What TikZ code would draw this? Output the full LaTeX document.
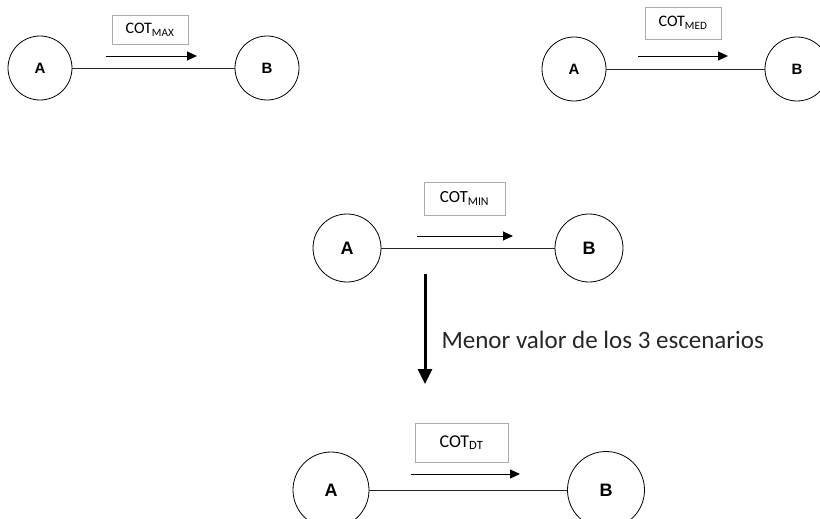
\documentclass[tikz,border=0pt]{standalone}
\usepackage{fontspec}
\setmainfont{Carlito}
\newfontfamily\letrafont{Liberation Sans}
\usetikzlibrary{positioning, arrows.meta}
\tikzset{nodo/.style={circle, draw=black, line width=0.8pt, minimum size=64pt, inner sep=0pt, font=\letrafont\bfseries\fontsize{15}{15}\selectfont},
  nodogrande/.style={nodo, minimum size=70pt, font=\letrafont\bfseries\fontsize{18}{18}\selectfont},
  etiqueta/.style={draw=gray!65, line width=0.8pt, minimum width=76pt, minimum height=29pt, inner sep=0pt, font=\fontsize{16}{16}\selectfont},
  flecha/.style={-{Triangle[length=10pt,width=9pt]}, line width=0.9pt},
  ruta/.style={line width=0.8pt, draw=black!85},
  bajada/.style={-{Triangle[length=15pt,width=14pt]}, line width=3pt}}

\begin{document}
\begin{tikzpicture}[x=1pt, y=-1pt]
                 \useasboundingbox (0,0) rectangle (820,519);
                 % COT max
                 \node[nodo] (A1) at (40,68) {A};
                 \node[nodo] (B1) at (267,68) {B};
                 \node[etiqueta] (cot1) at (150,30) {COT\textsubscript{MAX}};
                 \coordinate (f1i) at (106,56);
                 \coordinate (f1f) at (197,56);
                 \draw[ruta] (A1) -- (B1);
                 \draw[flecha] (f1i) -- (f1f);

                 % COT med
                 \node[nodo] (A2) at (574,69) {A};
                 \node[nodo] (B2) at (797,69) {B};
                 \node[etiqueta, minimum height=32pt] (cot2) at (683,23) {COT\textsubscript{MED}};
                 \coordinate (f2i) at (638,56);
                 \coordinate (f2f) at (728,56);
                 \draw[ruta] (A2) -- (B2);
                 \draw[flecha] (f2i) -- (f2f);

                 % COT min
                 \node[nodogrande, minimum size=68pt] (A3) at (347,248) {A};
                 \node[nodogrande, minimum size=68pt] (B3) at (589,248) {B};
                 \node[etiqueta, minimum width=81pt, minimum height=33pt, font=\fontsize{17}{17}\selectfont] (cot3) at (464.5,198.5) {COT\textsubscript{MIN}};
                 \coordinate (f3i) at (417,236);
                 \coordinate (f3f) at (513,236);
                 \draw[ruta] (A3) -- (B3);
                 \draw[flecha] (f3i) -- (f3f);

                 \coordinate (sal) at (425,274);
                 \coordinate (lleg) at (425,384);
                 \draw[bajada] (sal) -- (lleg);
                 \node[anchor=base west, font=\fontsize{25}{25}\selectfont, text=black!85] (txt) at (438,348) {Menor valor de los 3 escenarios};

                 % COT dt
                 \node[nodogrande, minimum size=76pt] (A4) at (331,490) {A};
                 \node[nodogrande, minimum size=77pt] (B4) at (606,490) {B};
                 \node[etiqueta, minimum width=93pt, minimum height=39pt, font=\fontsize{18}{18}\selectfont] (cot4) at (461.5,442.5) {COT\textsubscript{DT}};
                 \coordinate (f4i) at (411,474);
                 \coordinate (f4f) at (520,474);
                 \draw[ruta] (A4) -- (B4);
                 \draw[flecha] (f4i) -- (f4f);
             \end{tikzpicture}
\end{document}
